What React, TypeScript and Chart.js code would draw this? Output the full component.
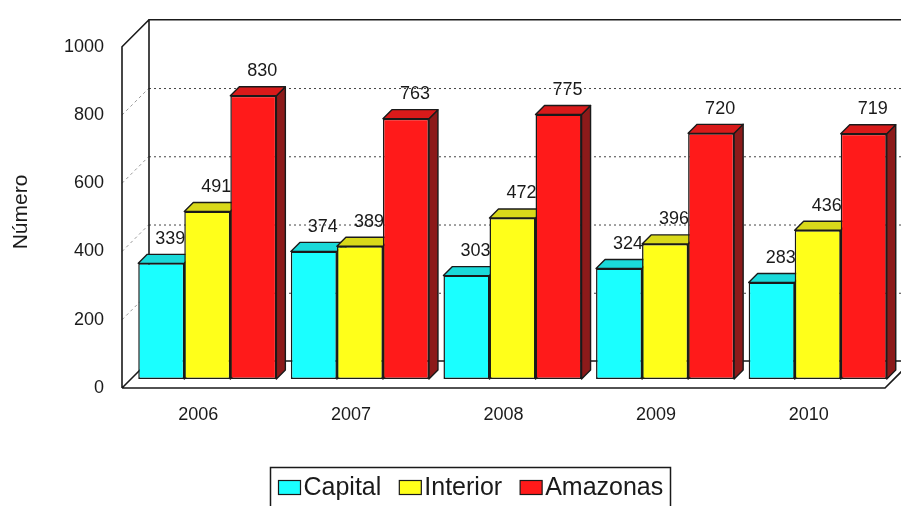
import React, { useEffect, useRef } from 'react';
import { Chart, registerables } from 'chart.js';

Chart.register(...registerables);

const categories = ['2006', '2007', '2008', '2009', '2010'];
const capital = [339, 374, 303, 324, 283];
const interior = [491, 389, 472, 396, 436];
const amazonas = [830, 763, 775, 720, 719];
const seriesNames = ['Capital', 'Interior', 'Amazonas'];
const yTicks = [0, 200, 400, 600, 800, 1000];
const axisTitle = 'Número';

const frontColors = ['#1affff', '#ffff1a', '#ff1a1a'];
const topColors = ['#1ad9d9', '#d9d91a', '#d91a1a'];
const sideColors = ['#138c8c', '#8c8c13', '#8c1a1a'];

const FONT = "'Liberation Sans', Arial, sans-serif";
const D = 9; // bar depth
const WALL = 18; // back wall offset behind bar plane
const FRONT = 9; // front edge offset in front of bar plane
const EDGE = '#1a1a1a';

function poly(ctx: CanvasRenderingContext2D, pts: number[][], fill: string) {
  ctx.beginPath();
  ctx.moveTo(pts[0][0], pts[0][1]);
  for (let i = 1; i < pts.length; i++) ctx.lineTo(pts[i][0], pts[i][1]);
  ctx.closePath();
  ctx.fillStyle = fill;
  ctx.fill();
  ctx.strokeStyle = EDGE;
  ctx.lineWidth = 1.4;
  ctx.lineJoin = 'round';
  ctx.stroke();
}

const threeD = {
  id: 'threeD',
  beforeDatasetsDraw(chart: any) {
    const { ctx, chartArea, scales } = chart;
    const { left, right, bottom } = chartArea;
    const y = scales.y;
    const W = chart.width + 40;
    const fx0 = left - FRONT;
    const fy0 = bottom + FRONT;
    const fx1 = right - FRONT;
    const bx0 = left + WALL;
    const by0 = bottom - WALL;
    const yTop = y.getPixelForValue(yTicks[yTicks.length - 1]);
    const topFront = yTop + FRONT;
    const topBack = yTop - WALL;
    ctx.save();
    for (const v of yTicks) {
      if (v === yTicks[0] || v === yTicks[yTicks.length - 1]) continue;
      const py = y.getPixelForValue(v);
      ctx.lineWidth = 1;
      ctx.strokeStyle = '#444';
      ctx.setLineDash([2, 3]);
      ctx.beginPath();
      ctx.moveTo(bx0, py - WALL + 0.5);
      ctx.lineTo(W, py - WALL + 0.5);
      ctx.stroke();
      ctx.strokeStyle = '#999';
      ctx.setLineDash([3, 3]);
      ctx.beginPath();
      ctx.moveTo(fx0, py + FRONT);
      ctx.lineTo(bx0, py - WALL);
      ctx.stroke();
    }
    ctx.setLineDash([]);
    ctx.strokeStyle = '#1a1a1a';
    ctx.lineWidth = 1.6;
    ctx.beginPath();
    ctx.moveTo(bx0, by0);
    ctx.lineTo(bx0, topBack);
    ctx.lineTo(W, topBack);
    ctx.moveTo(fx0, fy0);
    ctx.lineTo(fx0, topFront);
    ctx.lineTo(bx0, topBack);
    ctx.moveTo(fx0, fy0);
    ctx.lineTo(bx0, by0);
    ctx.lineTo(W, by0);
    ctx.moveTo(fx0, fy0);
    ctx.lineTo(fx1, fy0);
    ctx.lineTo(fx1 + FRONT + WALL, fy0 - FRONT - WALL);
    ctx.stroke();
    ctx.restore();
  },
  beforeDatasetDraw() {
    return false;
  },
  afterDatasetsDraw(chart: any) {
    const { ctx } = chart;
    ctx.save();
    chart.data.datasets.forEach((ds: any, i: number) => {
      const meta = chart.getDatasetMeta(i);
      meta.data.forEach((bar: any, j: number) => {
        const { x, y, base, width } = bar.getProps(['x', 'y', 'base', 'width'], true);
        const l = x - width / 2;
        const r = x + width / 2;
        poly(ctx, [[r, y], [r + D, y - D], [r + D, base - D], [r, base]], sideColors[i]);
        poly(ctx, [[l, y], [r, y], [r + D, y - D], [l + D, y - D]], topColors[i]);
        bar.draw(ctx, chart.chartArea);
        ctx.font = `18px ${FONT}`;
        ctx.fillStyle = '#1a1a1a';
        ctx.textAlign = 'center';
        ctx.textBaseline = 'alphabetic';
        ctx.fillText(String(ds.data[j]), x + D, y - D - 10.5);
      });
    });
    ctx.restore();
  },
  afterDraw(chart: any) {
    const { ctx } = chart;
    ctx.save();
    ctx.translate(26.5, 212);
    ctx.rotate(-Math.PI / 2);
    ctx.font = `21px ${FONT}`;
    ctx.fillStyle = '#1a1a1a';
    ctx.textAlign = 'center';
    ctx.textBaseline = 'alphabetic';
    ctx.fillText(axisTitle, 0, 0);
    ctx.restore();

    ctx.save();
    ctx.strokeStyle = '#1a1a1a';
    ctx.lineWidth = 1.5;
    ctx.strokeRect(270.5, 467.5, 400, 60);
    ctx.font = `25px ${FONT}`;
    ctx.textBaseline = 'alphabetic';
    ctx.textAlign = 'left';
    let xPos = 278.5;
    seriesNames.forEach((name, i) => {
      ctx.fillStyle = frontColors[i];
      ctx.fillRect(xPos, 480.5, 22, 14);
      ctx.strokeStyle = EDGE;
      ctx.lineWidth = 1.2;
      ctx.strokeRect(xPos, 480.5, 22, 14);
      ctx.fillStyle = '#1a1a1a';
      const tx = xPos + 22 + 3;
      ctx.fillText(name, tx, 495);
      xPos = tx + ctx.measureText(name).width + 18;
    });
    ctx.restore();
  },
};

export default function App() {
  const ref = useRef<HTMLCanvasElement | null>(null);
  useEffect(() => {
    if (!ref.current) return;
    const chart = new Chart(ref.current, {
      type: 'bar',
      data: {
        labels: categories,
        datasets: [capital, interior, amazonas].map((d, i) => ({
          label: seriesNames[i],
          data: d,
          backgroundColor: frontColors[i],
          borderColor: EDGE,
          borderWidth: 1.5,
          borderSkipped: false,
          categoryPercentage: 0.905,
          barPercentage: 1.0,
        })),
      },
      options: {
        animation: false,
        responsive: false,
        layout: { padding: { left: 0, top: 29.7, right: 7, bottom: 0 } },
        plugins: { legend: { display: false }, tooltip: { enabled: false } },
        scales: {
          x: {
            grid: { display: false, drawTicks: false },
            border: { display: false },
            ticks: { font: { size: 18, family: FONT }, color: '#1a1a1a', padding: 25, labelOffset: -9 },
            afterFit: (s: any) => { s.height = 127; },
          },
          y: {
            min: 0,
            max: 1000,
            grid: { display: false, drawTicks: false },
            border: { display: false },
            ticks: {
              stepSize: 200,
              font: { size: 18, family: FONT },
              color: '#1a1a1a',
              padding: 27,
              labelOffset: 9,
              callback: (v: any) => String(v),
            },
            afterFit: (s: any) => { s.width = 131; },
          },
        },
      },
      plugins: [threeD],
    });
    return () => chart.destroy();
  }, []);
  return (
    <div style={{ position: 'absolute', left: 0, top: 0, width: 901, height: 506, background: '#fff' }}>
      <canvas ref={ref} width={901} height={506} style={{ display: 'block' }} />
    </div>
  );
}
